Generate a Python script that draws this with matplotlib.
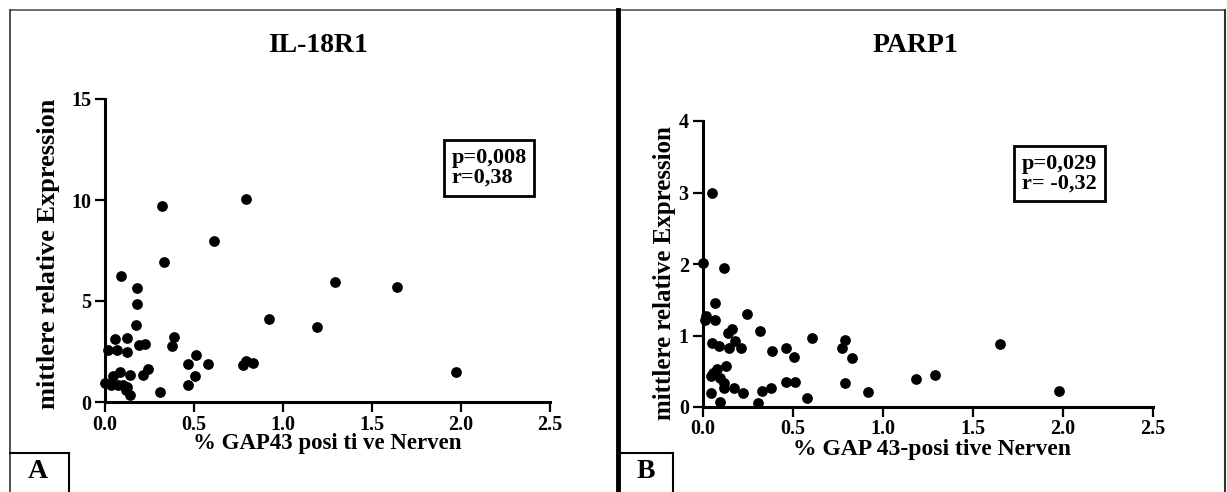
"""Two scatter panels: IL-18R1 and PARP1 expression vs. % GAP43 positive nerves."""

import matplotlib
matplotlib.use("Agg")
import matplotlib.pyplot as plt
from matplotlib.lines import Line2D

plt.rcParams["font.family"] = ["Liberation Serif", "DejaVu Serif"]
plt.rcParams["font.weight"] = "bold"

# ---------------------------------------------------------------------------
# Data
# ---------------------------------------------------------------------------
il18_x = [0.322, 0.79, 0.61, 0.331, 0.092, 0.178, 0.182, 1.294, 0.919, 1.189,
          0.172, 0.056, 0.125, 0.39, 0.375, 0.193, 0.225, 0.019, 0.066, 0.125,
          0.511, 0.464, 0.579, 0.777, 0.792, 0.833, 0.243, 0.215, 0.084, 0.142,
          0.047, 0.504, 0.0, 0.464, 0.032, 0.075, 0.125, 0.103, 0.309, 0.14,
          0.116, 1.64, 1.97]
il18_y = [9.72, 10.03, 7.96, 6.92, 6.24, 5.62, 4.86, 5.95, 4.12, 3.72,
          3.81, 3.11, 3.15, 3.21, 2.75, 2.80, 2.85, 2.55, 2.59, 2.49,
          2.34, 1.89, 1.89, 1.81, 2.03, 1.93, 1.61, 1.32, 1.48, 1.35,
          1.27, 1.29, 0.94, 0.82, 0.82, 0.86, 0.74, 0.82, 0.49, 0.33,
          0.61, 5.70, 1.50]

parp_x = [0.053, 0.0, 0.12, 0.068, 0.018, 0.01, 0.066, 0.244, 0.165, 0.142,
          0.316, 0.053, 0.09, 0.145, 0.178, 0.215, 0.608, 0.789, 0.774, 0.463,
          0.386, 0.506, 0.831, 0.127, 0.077, 0.055, 0.044, 0.096, 0.121, 0.121,
          0.175, 0.224, 0.044, 0.327, 0.377, 0.463, 0.511, 0.789, 0.919, 1.186,
          1.292, 0.097, 0.307, 0.577, 1.65, 1.98]
parp_y = [3.00, 2.01, 1.95, 1.45, 1.27, 1.22, 1.21, 1.30, 1.09, 1.03,
          1.06, 0.90, 0.86, 0.83, 0.92, 0.82, 0.96, 0.94, 0.83, 0.82,
          0.78, 0.70, 0.68, 0.57, 0.53, 0.48, 0.44, 0.41, 0.34, 0.26,
          0.27, 0.20, 0.20, 0.22, 0.27, 0.35, 0.35, 0.33, 0.21, 0.39,
          0.45, 0.07, 0.06, 0.12, 0.885, 0.23]

x_ticks = [0.0, 0.5, 1.0, 1.5, 2.0, 2.5]
il18_y_ticks = [0, 5, 10, 15]
parp_y_ticks = [0, 1, 2, 3, 4]

W, H = 1227, 492


def fx(px):
    return px / W


def fy(py):
    return 1 - py / H


def style_axes(ax, yticks, ymax):
    for side in ("top", "right"):
        ax.spines[side].set_visible(False)
    for side in ("left", "bottom"):
        ax.spines[side].set_linewidth(2.2)
    ax.set_xlim(0, 2.5)
    ax.set_ylim(0, ymax)
    ax.set_xticks(x_ticks)
    ax.set_xticklabels([f"{t:.1f}" for t in x_ticks])
    ax.set_yticks(yticks)
    ax.tick_params(direction="out", length=7, width=1.6, color="black")
    ax.tick_params(axis="x", labelsize=14.5, pad=2)
    ax.tick_params(axis="y", labelsize=14.5, pad=3)
    for lab in ax.get_xticklabels() + ax.get_yticklabels():
        lab.set_fontweight("bold")


fig = plt.figure(figsize=(W / 100, H / 100), dpi=100)

# Panel A
ax_a = fig.add_axes([fx(105), fy(402), fx(550) - fx(105), fy(99) - fy(402)])
ax_a.scatter(il18_x, il18_y, s=45, color="black", clip_on=False, zorder=3)
style_axes(ax_a, il18_y_ticks, 15)
ax_a.set_xlabel("% GAP43 posi ti ve Nerven", fontsize=16.5, fontweight="bold", va="center")
ax_a.xaxis.set_label_coords(0.5, -0.138)
ax_a.set_ylabel("mittlere relative Expression", fontsize=19, fontweight="bold", va="center")
ax_a.yaxis.set_label_coords(-0.128, 0.49)
ax_a.text(0.863, 0.772, "p=0,008\nr=0,38", transform=ax_a.transAxes, fontsize=16,
          fontweight="bold", ha="center", va="center", multialignment="left",
          linespacing=1.0,
          bbox=dict(boxstyle="square,pad=0.35", fc="white", ec="black", lw=2))
fig.text(fx(318), fy(46), "IL-18R1", fontsize=20, fontweight="bold", ha="center", va="center")

# Panel B
ax_b = fig.add_axes([fx(702.7), fy(407), fx(1153) - fx(702.7), fy(121) - fy(407)])
ax_b.scatter(parp_x, parp_y, s=45, color="black", clip_on=False, zorder=3)
style_axes(ax_b, parp_y_ticks, 4)
ax_b.set_xlabel("% GAP 43-posi tive Nerven", fontsize=17, fontweight="bold", va="center")
ax_b.xaxis.set_label_coords(0.509, -0.147)
ax_b.set_ylabel("mittlere relative Expression", fontsize=18, fontweight="bold", va="center")
ax_b.yaxis.set_label_coords(-0.085, 0.47)
ax_b.text(0.793, 0.816, "p=0,029\nr= -0,32", transform=ax_b.transAxes, fontsize=16,
          fontweight="bold", ha="center", va="center", multialignment="left",
          linespacing=1.0,
          bbox=dict(boxstyle="square,pad=0.35", fc="white", ec="black", lw=2))
fig.text(fx(915), fy(46), "PARP1", fontsize=20, fontweight="bold", ha="center", va="center")

# Panel frames
frame = [
    ((10, 1225), (10, 10), "#555555", 1.2),
    ((10, 10), (10, 492), "#333333", 1.2),
    ((1225, 1225), (10, 492), "#333333", 1.5),
    ((618, 618), (10, 492), "black", 3.5),
    ((10, 69), (453, 453), "black", 1.5),
    ((69, 69), (453, 492), "black", 1.5),
    ((620, 673), (453, 453), "black", 1.5),
    ((673, 673), (453, 492), "black", 1.5),
]
for xs, ys, col, lw in frame:
    fig.add_artist(Line2D([fx(v) for v in xs], [fy(v) for v in ys], color=col, lw=lw))

fig.text(fx(38), fy(472), "A", fontsize=20, fontweight="bold", ha="center", va="center")
fig.text(fx(646), fy(472), "B", fontsize=20, fontweight="bold", ha="center", va="center")

fig.savefig("out.png", dpi=100, facecolor="white")
